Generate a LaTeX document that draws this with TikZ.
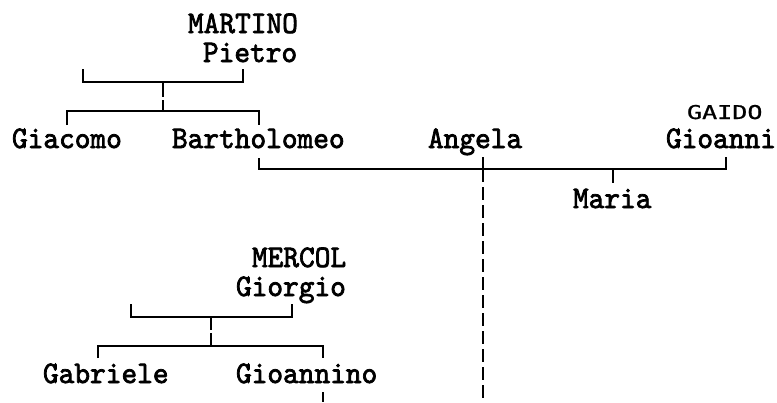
\documentclass[tikz,border=0pt]{standalone}
\usepackage{fontspec}
\newfontfamily\namefont{lmmono10-regular.otf}[FakeBold=2.4]
\newfontfamily\gaidofont{DejaVu Sans Mono}[FakeBold=0.8]
\newcommand{\widetext}[1]{\scalebox{1.32}[1]{#1}}
\begin{document}
\begin{tikzpicture}[x=1pt,y=-1pt,
  nm/.style={anchor=base west,inner sep=0pt,outer sep=0pt,
    font=\namefont\fontsize{29.9}{32}\selectfont, yscale=1.05},
  sname/.style={anchor=base west,inner sep=0pt,outer sep=0pt,
    font=\gaidofont\fontsize{19}{22}\selectfont},
  ln/.style={line width=1.8pt},
  dl/.style={line width=1.8pt,dash pattern=on 13pt off 5pt}]
\useasboundingbox (0,0) rectangle (777,402);
% names
\node[nm] (martino) at (188,33) {MARTINO};
\node[nm] (pietro) at (203,62) {Pietro};
\node[nm] (giacomo) at (12,148) {Giacomo};
\node[nm] (bart) at (172,148) {Bartholomeo};
\node[nm] (angela) at (428,148) {Angela};
\node[sname] (gaido) at (687,119) {\widetext{GAIDO}};
\node[nm] (gioanni) at (666,148) {Gioanni};
\node[nm] (maria) at (573,208) {Maria};
\node[nm] (mercol) at (252,267) {MERCOL};
\node[nm] (giorgio) at (236,296) {Giorgio};
\node[nm] (gabriele) at (43,383) {Gabriele};
\node[nm] (gioannino) at (236,383) {Gioannino};
% connector points
\coordinate (pA) at (83,69);   \coordinate (pB) at (243,69);
\coordinate (pC) at (163,82);  \coordinate (pCg1) at (163,97);
\coordinate (pCg2) at (163,100); \coordinate (pD) at (163,111);
\coordinate (cA) at (67,125);  \coordinate (cB) at (259,125);
\coordinate (mA) at (259,158); \coordinate (mB) at (726,157);
\coordinate (aT) at (483,157); \coordinate (aM) at (483,169);
\coordinate (aE) at (483,402);
\coordinate (mT) at (613,169); \coordinate (mE) at (613,183);
\coordinate (gA) at (131,304); \coordinate (gB) at (292,304);
\coordinate (gC) at (211,317); \coordinate (gCg1) at (211,330);
\coordinate (gCg2) at (211,333); \coordinate (gD) at (211,346);
\coordinate (kA) at (98,358);  \coordinate (kB) at (323,358);
\coordinate (nT) at (323,392); \coordinate (nE) at (323,402);
% Martino family
\draw[ln] (pA) |- (pC) -| (pB);
\draw[ln] (pC) -- (pCg1);
\draw[ln] (pCg2) -- (pD);
\draw[ln] (cA) |- (pD) -| (cB);
% marriage line
\draw[ln] (mA) |- (aM) -| (mB);
\draw[ln] (aT) -- (aM);
\draw[ln] (mT) -- (mE);
\draw[dl] (aM) -- (aE);
% Mercol family
\draw[ln] (gA) |- (gC) -| (gB);
\draw[ln] (gC) -- (gCg1);
\draw[ln] (gCg2) -- (gD);
\draw[ln] (kA) |- (gD) -| (kB);
\draw[ln] (nT) -- (nE);
\end{tikzpicture}
\end{document}
